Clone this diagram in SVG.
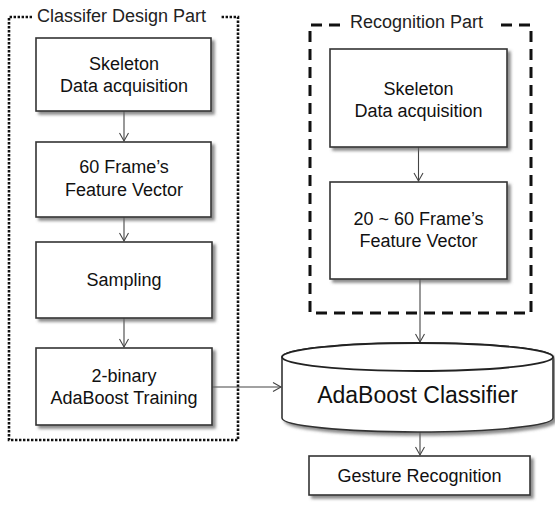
<svg xmlns="http://www.w3.org/2000/svg" width="555" height="508" viewBox="0 0 555 508">
  <defs>
    <filter id="shadow" x="-10%" y="-10%" width="130%" height="140%">
      <feDropShadow dx="3" dy="3" stdDeviation="1.5" flood-color="#666" flood-opacity="0.75"/>
    </filter>
    <marker id="arrow" markerUnits="userSpaceOnUse" markerWidth="12" markerHeight="12" viewBox="-10 -6 12 12" refX="0" refY="0" orient="auto">
      <path d="M-8,-4.5 L0,0 L-8,4.5" fill="none" stroke="#444" stroke-width="1.1"/>
    </marker>
  </defs>
  <style>
    .box { fill: #fff; stroke: #333; stroke-width: 1.6; filter: url(#shadow); }
    .label { font-family: "Liberation Sans", Arial, sans-serif; font-size: 18px; fill: #111; text-anchor: middle; }
    .title { font-family: "Liberation Sans", Arial, sans-serif; font-size: 18px; fill: #222; }
    .edge { fill: none; stroke: #444; stroke-width: 1.1; marker-end: url(#arrow); }
    .dotted { fill: none; stroke: #111; stroke-width: 2.6; stroke-dasharray: 2.4 1.6; }
    .dashed { fill: none; stroke: #111; stroke-width: 3; stroke-dasharray: 11 7; }
  </style>
  <rect width="555" height="508" fill="#fff"/>

  <!-- group frames -->
  <g id="classifier-design-part">
    <path class="dotted" d="M32,17 H9 V440 H238 V17 H220"/>
    <text class="title" x="37" y="22">Classifer Design Part</text>
  </g>
  <g id="recognition-part">
    <path class="dashed" d="M340,25 H310 V313 H531 V25 H501"/>
    <text class="title" x="350" y="28">Recognition Part</text>
  </g>

  <!-- connectors -->
  <g id="connectors">
    <line class="edge" x1="124" y1="111" x2="124" y2="141"/>
    <line class="edge" x1="124" y1="217" x2="124" y2="241"/>
    <line class="edge" x1="124" y1="318" x2="124" y2="347"/>
    <line class="edge" x1="212" y1="387" x2="281" y2="387"/>
    <line class="edge" x1="418.5" y1="147" x2="418.5" y2="181"/>
    <line class="edge" x1="420" y1="279" x2="420" y2="342"/>
    <line class="edge" x1="420" y1="432" x2="420" y2="455"/>
  </g>

  <!-- classifier design nodes -->
  <g id="skeleton-train">
    <rect class="box" x="36" y="38" width="175" height="73"/>
    <text class="label" x="124" y="70">Skeleton</text>
    <text class="label" x="124" y="92">Data acquisition</text>
  </g>
  <g id="feature-60">
    <rect class="box" x="36" y="142" width="175" height="75"/>
    <text class="label" x="124" y="173">60 Frame’s</text>
    <text class="label" x="124" y="196">Feature Vector</text>
  </g>
  <g id="sampling">
    <rect class="box" x="36" y="242" width="176" height="76"/>
    <text class="label" x="124" y="286">Sampling</text>
  </g>
  <g id="adaboost-training">
    <rect class="box" x="36" y="348" width="176" height="77"/>
    <text class="label" x="124" y="382">2-binary</text>
    <text class="label" x="124" y="404">AdaBoost Training</text>
  </g>

  <!-- recognition nodes -->
  <g id="skeleton-recog">
    <rect class="box" x="330" y="49" width="177" height="98"/>
    <text class="label" x="418.5" y="95">Skeleton</text>
    <text class="label" x="418.5" y="117">Data acquisition</text>
  </g>
  <g id="feature-20-60">
    <rect class="box" x="330" y="182" width="177" height="97"/>
    <text class="label" x="418.5" y="225">20 ~ 60 Frame’s</text>
    <text class="label" x="418.5" y="247">Feature Vector</text>
  </g>

  <!-- classifier store -->
  <g id="adaboost-classifier">
    <path class="box" d="M282,357 V418 A135.5,14 0 0 0 553,418 V357 A135.5,14 0 0 0 282,357 Z"/>
    <ellipse cx="417.5" cy="357" rx="135.5" ry="14" fill="#fff" stroke="#222" stroke-width="1.8"/>
    <text class="label" x="417.5" y="403" style="font-size:23px">AdaBoost Classifier</text>
  </g>

  <g id="gesture-recognition">
    <rect class="box" x="309" y="456" width="221" height="39"/>
    <text class="label" x="419.5" y="482">Gesture Recognition</text>
  </g>
</svg>
